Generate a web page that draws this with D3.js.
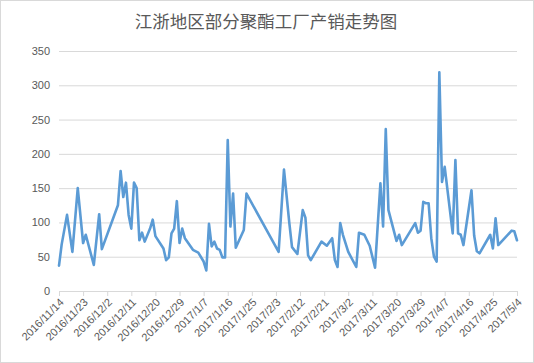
<!DOCTYPE html>
<head>
    <meta charset="utf-8">
    <title>江浙地区部分聚酯工厂产销走势图</title>
    <script src="https://d3js.org/d3.v7.min.js"></script>
</head>
<style>
body {
  margin: 0;
  font-family: 'Noto Sans CJK SC', 'Noto Sans', sans-serif;
  background: #fff;
}

text {
    fill: #595959;
}
</style>
<body>
    <svg></svg>
</body>

<script>
    var vWidth = 534;
    var vHeight = 363;

    // Data (产销率, %)
    var dates = [
        '2016/11/14', '2016/11/15', '2016/11/17', '2016/11/19', '2016/11/21', '2016/11/23', '2016/11/24',
        '2016/11/27', '2016/11/29', '2016/11/30', '2016/12/6', '2016/12/7', '2016/12/8', '2016/12/9',
        '2016/12/10', '2016/12/11', '2016/12/12', '2016/12/13', '2016/12/14', '2016/12/15', '2016/12/16',
        '2016/12/18', '2016/12/19', '2016/12/20', '2016/12/23', '2016/12/24', '2016/12/25', '2016/12/26',
        '2016/12/27', '2016/12/28', '2016/12/29', '2016/12/30', '2016/12/31', '2017/1/3', '2017/1/5',
        '2017/1/7', '2017/1/8', '2017/1/9', '2017/1/10', '2017/1/11', '2017/1/12', '2017/1/13',
        '2017/1/14', '2017/1/15', '2017/1/16', '2017/1/17', '2017/1/18', '2017/1/19', '2017/1/22',
        '2017/1/23', '2017/2/4', '2017/2/6', '2017/2/8', '2017/2/9', '2017/2/11', '2017/2/13',
        '2017/2/14', '2017/2/15', '2017/2/16', '2017/2/20', '2017/2/22', '2017/2/24', '2017/2/25',
        '2017/2/26', '2017/2/27', '2017/2/28', '2017/3/2', '2017/3/5', '2017/3/6', '2017/3/8',
        '2017/3/10', '2017/3/12', '2017/3/14', '2017/3/15', '2017/3/16', '2017/3/17', '2017/3/20',
        '2017/3/21', '2017/3/22', '2017/3/27', '2017/3/28', '2017/3/29', '2017/3/30', '2017/3/31',
        '2017/4/1', '2017/4/2', '2017/4/3', '2017/4/4', '2017/4/5', '2017/4/6', '2017/4/7',
        '2017/4/10', '2017/4/11', '2017/4/12', '2017/4/13', '2017/4/14', '2017/4/17', '2017/4/18',
        '2017/4/19', '2017/4/20', '2017/4/24', '2017/4/25', '2017/4/26', '2017/4/27', '2017/5/2',
        '2017/5/3', '2017/5/4'
    ];
    var values = [
        37, 68, 111, 57, 150, 70, 82,
        38, 112, 61, 125, 175, 137, 158,
        111, 91, 158, 150, 74, 85, 72,
        91, 104, 80, 62, 45, 49, 84,
        91, 131, 70, 91, 77, 60, 56,
        43, 30, 98, 65, 72, 62, 60,
        49, 49, 220, 94, 142, 63, 89,
        142, 57, 177, 99, 64, 54, 118,
        107, 52, 45, 72, 66, 77, 45,
        35, 99, 82, 57, 35, 85, 82,
        66, 34, 157, 94, 236, 118, 73,
        82, 67, 99, 85, 88, 130, 128,
        128, 77, 50, 43, 319, 159, 181,
        84, 191, 84, 82, 67, 147, 81,
        58, 55, 82, 62, 106, 67, 88,
        87, 74
    ];
    var yTicks = [0, 50, 100, 150, 200, 250, 300, 350];
    var chartTitle = '江浙地区部分聚酯工厂产销走势图';

    var parseDate = d3.timeParse('%Y/%m/%d');
    var fmtDate = d3.timeFormat('%Y/%-m/%-d');
    var data = dates.map(function (d, i) { return { date: parseDate(d), value: values[i] }; });

    var svg = d3.select('svg')
        .attr('width', vWidth)
        .attr('height', vHeight);

    // chart frame
    svg.append('rect')
        .attr('x', 0.5).attr('y', 0.5)
        .attr('width', vWidth - 1).attr('height', vHeight - 1)
        .attr('fill', '#fff')
        .attr('stroke', '#d9d9d9');

    svg.append('text')
        .attr('x', 266).attr('y', 28)
        .attr('text-anchor', 'middle')
        .style('font-size', '17.5px')
        .text(chartTitle);

    var x = d3.scaleTime()
        .domain([data[0].date, data[data.length - 1].date])
        .range([59, 517]);
    var y = d3.scaleLinear().domain([0, 350]).range([291, 51]);

    // gridlines + y labels
    var yAxis = svg.append('g')
        .attr('transform', 'translate(59,0)')
        .call(d3.axisLeft(y).tickValues(yTicks).tickSize(-458).tickPadding(9));
    yAxis.select('.domain').remove();
    yAxis.selectAll('line').attr('stroke', '#d9d9d9');
    yAxis.selectAll('text').style('font-size', '11px').style('fill', '#595959');

    // x axis, one tick every 9 days
    var xTickVals = d3.timeDay.range(x.domain()[0], d3.timeDay.offset(x.domain()[1], 1), 9);
    var xAxis = svg.append('g')
        .attr('transform', 'translate(0,291)')
        .call(d3.axisBottom(x).tickValues(xTickVals).tickFormat(fmtDate).tickSize(5).tickSizeOuter(0));
    xAxis.select('.domain').attr('stroke', '#d9d9d9');
    xAxis.selectAll('line').attr('stroke', '#d9d9d9');
    xAxis.selectAll('text')
        .style('font-size', '11px')
        .style('fill', '#595959')
        .attr('text-anchor', 'end')
        .attr('dy', null)
        .attr('y', 0)
        .attr('transform', 'translate(5,12) rotate(-45)');

    var line = d3.line()
        .x(function (d) { return x(d.date); })
        .y(function (d) { return y(d.value); });

    svg.append('path')
        .datum(data)
        .attr('d', line)
        .attr('fill', 'none')
        .attr('stroke', '#5b9bd5')
        .attr('stroke-width', 2.6)
        .attr('stroke-linejoin', 'round')
        .attr('stroke-linecap', 'round');
</script>
